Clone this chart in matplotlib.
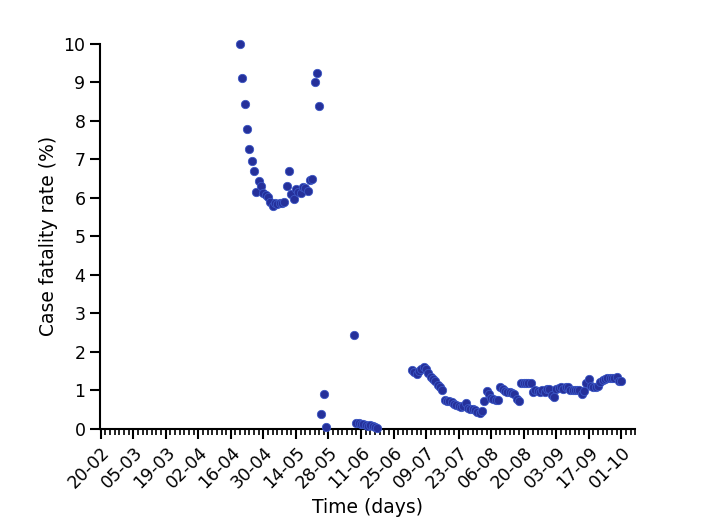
import matplotlib
matplotlib.use("Agg")
import matplotlib.pyplot as plt
import matplotlib.dates as mdates
import numpy as np
import pandas as pd

# Segment 1: daily values starting 2020-04-20
seg1_start = "2020-04-20"
seg1_values = [10.0, 9.12, 8.45, 7.80, 7.28, 6.97, 6.70, 6.15, 6.43, 6.30,
               6.12, 6.08, 6.02, 5.90, 5.80, 5.87, 5.85, 5.86, 5.88, 5.90,
               6.30, 6.70, 6.10, 5.96, 6.22, 6.15, 6.12, 6.28, 6.25, 6.18,
               6.47, 6.49, 9.00, 9.23, 8.38, 0.38, 0.91, 0.06]

# Segment 2: daily values starting 2020-06-08
seg2_start = "2020-06-08"
seg2_values = [2.44, 0.15, 0.16, 0.14, 0.12, 0.10, 0.08, 0.11, 0.09, 0.06, 0.02]

# Segment 3: daily values starting 2020-07-03
seg3_start = "2020-07-03"
seg3_values = [1.52, 1.48, 1.42, 1.50, 1.55, 1.60, 1.55, 1.45, 1.35, 1.30,
               1.25, 1.15, 1.08, 1.02, 0.75, 0.73, 0.72, 0.70, 0.65, 0.62,
               0.60, 0.58, 0.60, 0.67, 0.55, 0.52, 0.52, 0.50, 0.45, 0.42,
               0.48, 0.72, 0.98, 0.90, 0.80, 0.78, 0.75, 0.75, 1.10, 1.05,
               0.98, 0.95, 0.95, 0.93, 0.92, 0.78, 0.72, 1.20, 1.20, 1.20,
               1.20, 1.20, 0.95, 1.00, 0.98, 0.95, 1.00, 0.95, 1.05, 1.05,
               0.88, 0.82, 1.05, 1.07, 1.08, 1.05, 1.08, 1.10, 1.02, 1.02,
               1.00, 1.00, 1.00, 0.92, 0.98, 1.20, 1.30, 1.12, 1.10, 1.10,
               1.12, 1.22, 1.28, 1.30, 1.32, 1.33, 1.32, 1.32, 1.35, 1.25,
               1.25]

tick_start = "2020-02-20"
tick_end = "2020-10-01"
x_end = "2020-10-07"
y_ticks = list(range(0, 11))

dates = []
vals = []
for start, v in [(seg1_start, seg1_values), (seg2_start, seg2_values), (seg3_start, seg3_values)]:
    d = pd.date_range(start, periods=len(v), freq="D")
    dates.extend(d)
    vals.extend(v)

fig = plt.figure(figsize=(7.09, 5.28), dpi=100)
ax = fig.add_axes([0.141, 0.1875, 0.755, 0.7295])

ax.scatter(dates, vals, s=36, color="#25309a", edgecolors="#3b56c4",
           linewidths=0.6, zorder=3, clip_on=False)

major = pd.date_range(tick_start, tick_end, freq="14D")
minor = pd.date_range(tick_start, x_end, freq="2D")
ax.xaxis.set_major_locator(matplotlib.ticker.FixedLocator(mdates.date2num(major)))
ax.xaxis.set_minor_locator(matplotlib.ticker.FixedLocator(mdates.date2num(minor)))
ax.xaxis.set_major_formatter(mdates.DateFormatter("%d-%m"))
ax.set_xlim(mdates.date2num(pd.Timestamp(tick_start)) - 0.3,
            mdates.date2num(pd.Timestamp(x_end)))
ax.set_ylim(0, 10)
ax.set_yticks(y_ticks)

for s in ["top", "right"]:
    ax.spines[s].set_visible(False)
for s in ["left", "bottom"]:
    ax.spines[s].set_linewidth(1.5)

ax.tick_params(axis="both", which="major", direction="out", length=7, width=1.5, labelsize=12.5)
ax.tick_params(axis="x", which="minor", direction="out", length=4, width=1.2)
plt.setp(ax.get_xticklabels(), rotation=45, ha="right", rotation_mode="anchor")

ax.set_xlabel("Time (days)", fontsize=13.5)
ax.set_ylabel("Case fatality rate (%)", fontsize=13.5)

fig.savefig("out.png", dpi=100)
